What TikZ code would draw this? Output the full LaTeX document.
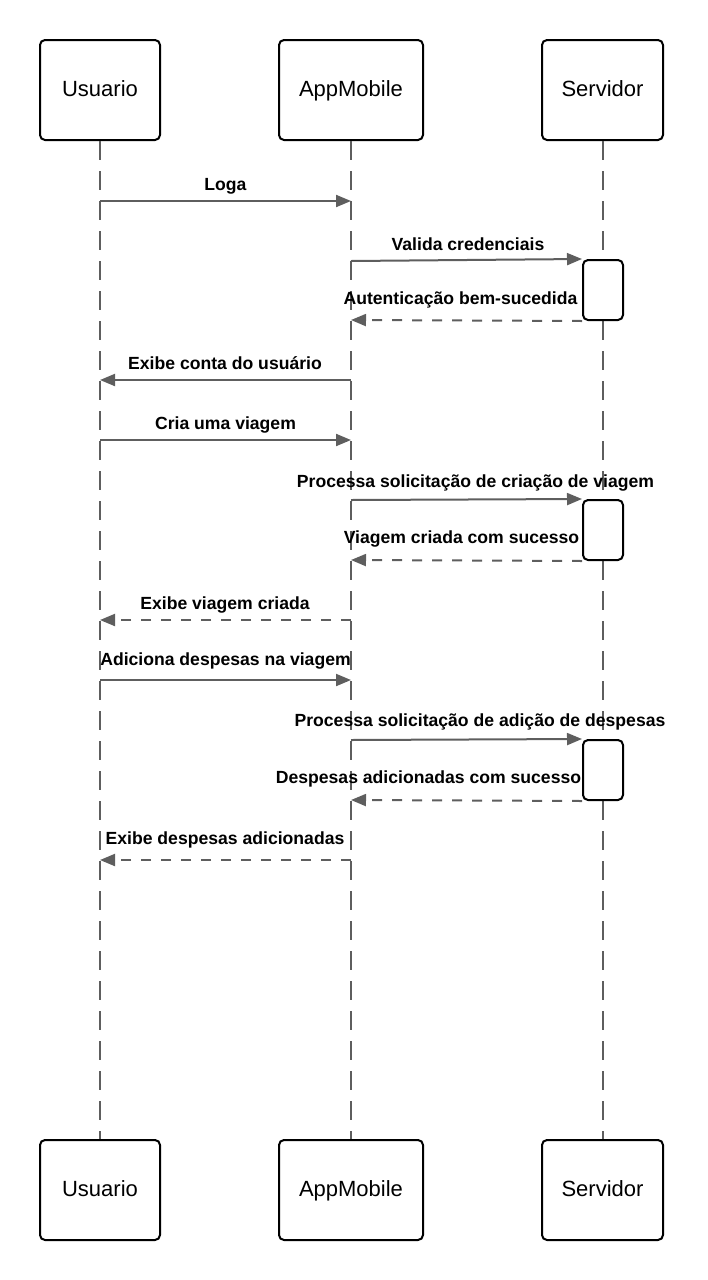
\documentclass[tikz,border=0pt]{standalone}
\usepackage{fontspec}
\setmainfont{Liberation Sans}
\usetikzlibrary{arrows.meta}
\definecolor{lg}{HTML}{5E5E5E}
\begin{document}
\begin{tikzpicture}[x=1pt,y=-1pt,
  actor/.style={draw=black, line width=2pt, rounded corners=5pt, minimum height=100pt, font=\fontsize{22}{26}\selectfont, inner sep=0pt, text height=12pt, text depth=0pt},
  actbox/.style={draw=black, fill=white, line width=2pt, rounded corners=5pt, minimum width=40pt, minimum height=60pt, inner sep=0pt},
  life/.style={draw=lg, line width=2pt, dash pattern=on 19pt off 11pt},
  msg/.style={draw=lg, line width=2pt, -{Triangle[length=15pt,width=12pt]}, lg},
  reply/.style={msg, dash pattern=on 10pt off 10pt},
  lbl/.style={font=\fontsize{17.6}{20}\selectfont\bfseries, anchor=base, inner sep=0pt, text=black}]
\useasboundingbox (0,0) rectangle (707,1280);

% actors top
\node[actor, minimum width=120pt] (ut) at (100,90) {Usuario};
\node[actor, minimum width=144pt] (at) at (351,90) {AppMobile};
\node[actor, minimum width=121pt] (st) at (602.5,90) {Servidor};
% actors bottom
\node[actor, minimum width=120pt] (ub) at (100,1190) {Usuario};
\node[actor, minimum width=144pt] (ab) at (351,1190) {AppMobile};
\node[actor, minimum width=121pt] (sb) at (602.5,1190) {Servidor};

% lifelines
\draw[life] (ut.south) -- (ub.north);
\draw[life] (at.south) -- (ab.north);
\draw[life] (st.south) -- (sb.north);

% activation boxes
\node[actbox] (x1) at (603,290) {};
\node[actbox] (x2) at (603,530) {};
\node[actbox] (x3) at (603,770) {};

% message end points
\coordinate (u1) at (100,201); \coordinate (a1) at (351,201);
\coordinate (a2) at (351,261);
\coordinate (a3) at (351,320);
\coordinate (u4) at (100,380); \coordinate (a4) at (351,380);
\coordinate (u5) at (100,440); \coordinate (a5) at (351,440);
\coordinate (a6) at (351,500);
\coordinate (a7) at (351,560);
\coordinate (u8) at (100,620); \coordinate (a8) at (351,620);
\coordinate (u9) at (100,680); \coordinate (a9) at (351,680);
\coordinate (a10) at (351,740);
\coordinate (a11) at (351,800);
\coordinate (u12) at (100,860); \coordinate (a12) at (351,860);

% messages
\draw[msg] (u1) -- (a1);
\draw[msg] (a2) -- (x1.north west);
\draw[reply] (x1.south west) -- (a3);
\draw[msg] (a4) -- (u4);
\draw[msg] (u5) -- (a5);
\draw[msg] (a6) -- (x2.north west);
\draw[reply] (x2.south west) -- (a7);
\draw[reply] (a8) -- (u8);
\draw[msg] (u9) -- (a9);
\draw[msg] (a10) -- (x3.north west);
\draw[reply] (x3.south west) -- (a11);
\draw[reply] (a12) -- (u12);

% labels
\node[lbl] (l1) at (225.5,190) {Loga};
\node[lbl] (l2) at (468,250) {Valida credenciais};
\node[lbl] (l3) at (460.5,304) {Autenticação bem-sucedida};
\node[lbl] (l4) at (225,369) {Exibe conta do usuário};
\node[lbl] (l5) at (225.5,429) {Cria uma viagem};
\node[lbl] (l6) at (475.5,487) {Processa solicitação de criação de viagem};
\node[lbl] (l7) at (461.5,543) {Viagem criada com sucesso};
\node[lbl] (l8) at (225,609) {Exibe viagem criada};
\node[lbl] (l9) at (225.5,665) {Adiciona despesas na viagem};
\node[lbl] (l10) at (480,726) {Processa solicitação de adição de despesas};
\node[lbl] (l11) at (428.5,783) {Despesas adicionadas com sucesso};
\node[lbl] (l12) at (225,844) {Exibe despesas adicionadas};
\end{tikzpicture}
\end{document}
